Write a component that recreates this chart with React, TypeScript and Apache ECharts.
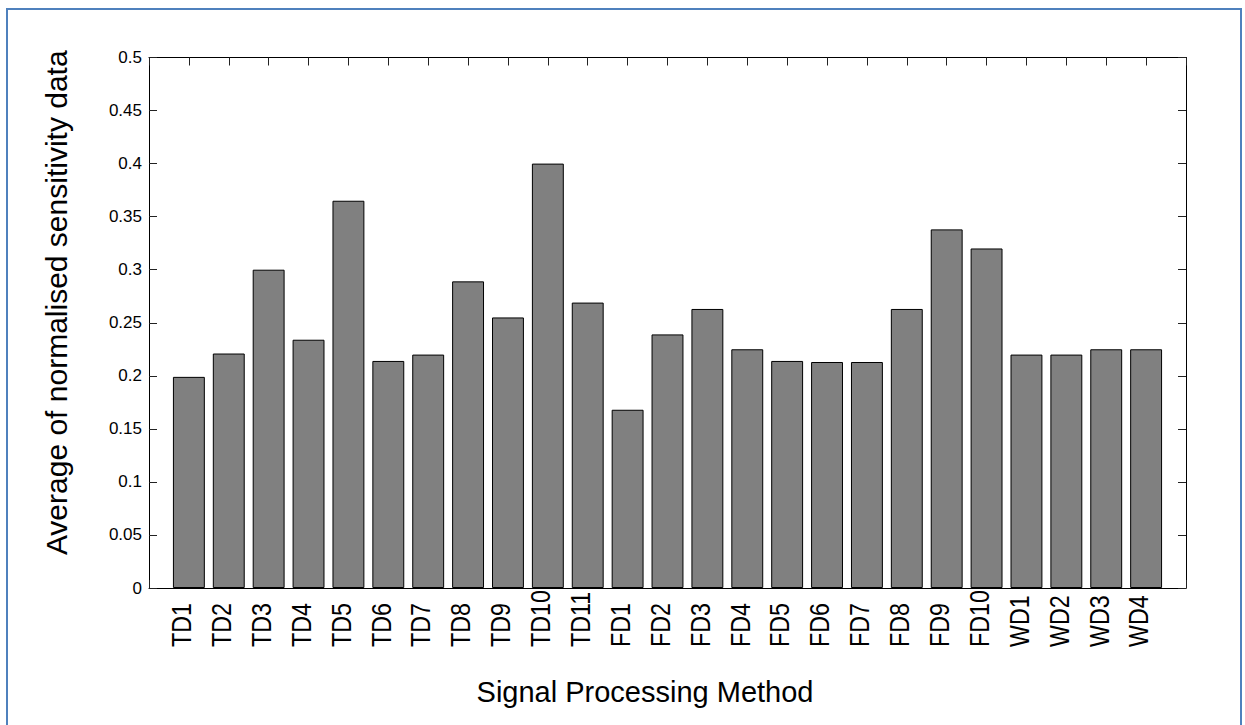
import React, { useEffect, useRef } from "react";
import * as echarts from "echarts";

const categories = [
  "TD1", "TD2", "TD3", "TD4", "TD5", "TD6", "TD7", "TD8", "TD9", "TD10", "TD11",
  "FD1", "FD2", "FD3", "FD4", "FD5", "FD6", "FD7", "FD8", "FD9", "FD10",
  "WD1", "WD2", "WD3", "WD4",
];
const values = [
  0.199, 0.221, 0.3, 0.234, 0.365, 0.214, 0.22, 0.289, 0.255, 0.4, 0.269,
  0.168, 0.239, 0.263, 0.225, 0.214, 0.213, 0.213, 0.263, 0.338, 0.32,
  0.22, 0.22, 0.225, 0.225,
];
const yTickLabels = ["0", "0.05", "0.1", "0.15", "0.2", "0.25", "0.3", "0.35", "0.4", "0.45", "0.5"];
const xTitle = "Signal Processing Method";
const yTitle = "Average of normalised sensitivity data";

export default function App() {
  const ref = useRef<HTMLDivElement>(null);
  useEffect(() => {
    if (!ref.current) return;
    const chart = echarts.init(ref.current, null, { renderer: "svg" });
    const axisLine = { show: true, onZero: false, lineStyle: { color: "#000", width: 1 } };
    const tick = { show: true, inside: true, length: 8, lineStyle: { color: "#222", width: 1 } };
    const xCommon = {
      type: "value" as const,
      min: 0,
      max: categories.length + 1,
      interval: 1,
      axisLine,
      axisTick: tick,
      splitLine: { show: false },
    };
    const yCommon = {
      type: "value" as const,
      min: 0,
      max: 0.5,
      interval: 0.05,
      axisLine,
      axisTick: tick,
      splitLine: { show: false },
    };
    chart.setOption({
      animation: false,
      backgroundColor: "#fff",
      grid: { left: 149, right: 59, top: 57.5, bottom: 137, containLabel: false },
      xAxis: [
        {
          ...xCommon,
          position: "bottom",
          axisLabel: { show: false },
          name: xTitle,
          nameLocation: "middle",
          nameGap: 89,
          nameTextStyle: {
            fontFamily: "'Liberation Sans', Arial, sans-serif",
            fontSize: 29,
            color: "#000",
            padding: [0, 45, 0, 0],
          },
        },
        { ...xCommon, position: "top", axisLabel: { show: false } },
      ],
      yAxis: [
        {
          ...yCommon,
          position: "left",
          axisLabel: {
            show: true,
            margin: 7,
            fontFamily: "'Liberation Sans', Arial, sans-serif",
            fontSize: 17,
            color: "#000",
            formatter: (v: number) => yTickLabels[Math.round(v / 0.05)] ?? "",
          },
          name: yTitle,
          nameLocation: "middle",
          nameGap: 78,
          nameTextStyle: {
            fontFamily: "'Liberation Sans', Arial, sans-serif",
            fontSize: 30,
            color: "#000",
            padding: [0, 0, 0, 40],
          },
        },
        { ...yCommon, position: "right", axisLabel: { show: false } },
      ],
      series: [
        {
          type: "bar",
          xAxisIndex: 0,
          yAxisIndex: 0,
          barWidth: "80%",
          data: values.map((v, i) => [i + 1, v]),
          itemStyle: { color: "#808080", borderColor: "#000", borderWidth: 1 },
        },
      ],
    });

    const labelGraphics = categories.map((c, i) => {
      const p = chart.convertToPixel({ gridIndex: 0 } as any, [i + 1, 0]) as number[];
      return {
        type: "text",
        id: "xl" + i,
        x: p[0] - 7.5,
        y: p[1] + 59,
        rotation: Math.PI / 2,
        scaleX: 0.83,
        style: {
          text: c,
          font: "28px 'Liberation Sans Narrow', 'Arial Narrow', sans-serif",
          fill: "#000",
          align: "left",
          verticalAlign: "middle",
        },
      };
    });
    chart.setOption({
      graphic: [
        {
          type: "rect",
          id: "frame",
          shape: { x: 7, y: 9, width: 1234, height: 740 },
          style: { fill: "none", stroke: "#4F81BD", lineWidth: 2 },
          silent: true,
        },
        ...labelGraphics,
      ],
    });
    return () => chart.dispose();
  }, []);
  return (
    <div
      ref={ref}
      style={{ position: "absolute", left: 0, top: 0, width: 1245, height: 725 }}
    />
  );
}
